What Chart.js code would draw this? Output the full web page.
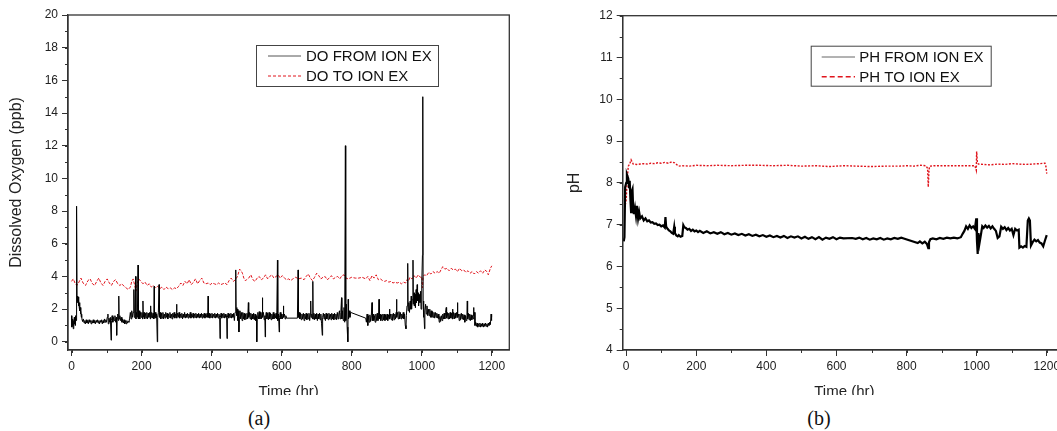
<!DOCTYPE html>
<html>
<head>
<meta charset="utf-8">
<script src="https://cdn.jsdelivr.net/npm/chart.js@4.4.1/dist/chart.umd.min.js"></script>
<style>
  body { margin: 0; background: #fff; width: 1057px; height: 431px; overflow: hidden; position: relative; }
  .panel { position: absolute; top: 0; height: 395px; overflow: hidden; }
  #panelA { left: 0; width: 530px; }
  #panelB { left: 540px; width: 517px; }
  .cap { position: absolute; top: 418px; transform: translate(-50%, -50%); font: 20px "Liberation Serif", "Times New Roman", serif; color: #111; }
</style>
</head>
<body>
<div class="panel" id="panelA"><canvas id="doChart" width="530" height="410"></canvas></div>
<div class="panel" id="panelB"><canvas id="phChart" width="550" height="410"></canvas></div>
<div class="cap" style="left:259px">(a)</div>
<div class="cap" style="left:819px">(b)</div>

<script>
// ---- data: [time (hr), value] ----
const timeTicks = [0, 200, 400, 600, 800, 1000, 1200];
const doTicks = [0, 2, 4, 6, 8, 10, 12, 14, 16, 18, 20];
const phTicks = [4, 5, 6, 7, 8, 9, 10, 11, 12];

const doLabels = ['DO FROM ION EX', 'DO TO ION EX'];
const phLabels = ['PH FROM ION EX', 'PH TO ION EX'];

const doFrom = [
  [0,1.6],[1,0.9],[2,1.3],[3,1.0],[4,1.4],[5,0.8],[6,1.3],[7,1.0],[8,1.5],[9,1.1],[10,1.4],[11,1.0],[12,1.6],[13,1.3],[14,2.0],
  [15,8.3],[16,2.4],[17,2.8],[18,2.5],[19,2.75],[20,2.2],[21,2.5],[22,2.1],[23,2.4],[24,1.9],[25,2.1],[26,1.7],[27,1.9],[28,1.5],
  [29,1.7],[30,1.35],[32,1.25],[34,1.4],[36,1.15],[38,1.3],[40,1.1],[42,1.35],[44,1.15],[46,1.3],[48,1.1],[50,1.35],[52,1.2],
  [54,1.3],[56,1.1],[58,1.3],[60,1.15],[62,1.35],[64,1.15],[66,1.3],[68,1.1],[70,1.3],[72,1.2],[74,1.35],[76,1.15],[78,1.3],
  [80,1.1],[82,1.3],[84,1.2],[86,1.35],[88,1.1],[90,1.3],[92,1.15],[94,1.4],[96,1.2],[98,1.35],[100,1.2],
  [102,1.5],[104,1.7],[105,1.1],[107,1.45],[109,1.2],[111,1.5],[113,0.1],[114,1.3],[116,1.6],[118,1.2],[120,1.5],[122,1.3],
  [124,1.6],[126,1.2],[128,1.5],[129,0.4],[130,1.4],[132,1.7],[134,1.3],[135,2.8],[136,1.4],[138,1.6],[140,1.3],[142,1.5],
  [144,1.2],[146,1.4],[148,1.15],[150,1.35],[152,1.1],[154,1.3],[156,1.1],[158,1.3],[160,1.15],[162,1.25],[164,1.2],
  [166,1.45],[168,1.8],[170,1.4],[172,1.9],[174,1.5],[176,1.8],[178,3.2],[179,1.5],[181,1.9],[183,4.0],[184,1.4],[186,1.8],
  [188,1.5],[190,4.7],[191,1.4],[193,1.9],[195,1.4],[197,1.8],[199,1.5],[201,1.8],[203,1.4],[204,2.5],[205,1.5],[207,1.8],
  [209,1.4],[211,1.75],[213,1.45],[215,1.8],[217,1.4],[219,1.75],[221,1.5],[223,1.8],[225,1.4],[226,2.2],[227,1.5],[229,1.8],
  [231,1.45],[233,1.75],[235,1.4],[236,3.4],[237,1.5],[239,1.8],[241,1.45],[243,1.7],[245,0.0],[246,1.5],[248,1.8],[250,3.5],
  [251,1.5],[253,1.8],[255,1.4],[257,1.75],[259,1.45],[261,1.8],[263,1.4],[265,1.7],[267,1.45],[269,1.8],[271,1.5],[273,1.75],
  [275,1.4],[277,1.7],[279,1.5],[281,1.8],[283,1.45],[285,1.7],[287,1.4],[289,1.75],[291,1.5],[293,1.8],[295,1.45],[297,1.7],
  [299,1.5],[300,2.3],[301,1.45],[303,1.75],[305,1.5],[307,1.8],[309,1.45],[311,1.7],[313,1.5],[315,1.75],[317,1.4],[319,1.7],
  [321,1.5],[323,1.8],[325,1.45],[327,1.7],[329,1.5],[331,1.75],[333,1.45],[335,1.7],[337,1.5],[339,1.8],[341,1.45],[343,1.7],
  [345,1.5],[347,1.75],[349,1.45],[351,1.7],[353,1.5],[355,1.75],[357,1.45],[359,1.7],[361,1.5],[363,1.75],[365,1.45],
  [367,1.7],[369,1.5],[371,1.75],[373,1.45],[375,1.7],[377,1.5],[379,1.75],[381,1.45],[383,1.7],[385,1.5],[387,1.75],
  [389,1.5],[390,2.8],[391,1.5],[393,1.75],[395,1.45],[397,1.7],[399,1.5],[401,1.75],[403,1.45],[405,1.7],[407,1.5],[409,1.75],
  [411,1.45],[413,1.7],[415,1.5],[417,1.75],[419,1.45],[421,1.7],[423,1.5],[424,0.2],[425,1.5],[427,1.75],[429,1.45],[431,1.7],
  [433,1.5],[435,1.75],[437,1.45],[439,1.7],[441,1.5],[443,1.6],[444,0.2],[445,1.5],[447,1.75],[449,1.45],[451,1.7],[453,1.5],
  [455,1.75],[457,1.45],[459,1.7],[461,1.5],[463,1.75],[465,1.3],[467,1.8],[469,4.4],[470,2.1],
  [472,1.6],[474,2.0],[475,1.3],[477,1.9],[478,0.6],[479,1.5],[481,1.9],[483,1.4],[485,1.8],[487,1.3],[489,1.8],[491,1.4],
  [493,1.75],[495,1.35],[497,1.7],[499,1.4],[501,1.75],[503,1.4],[505,2.4],[506,1.5],[508,1.8],[510,1.4],[512,1.75],[514,1.35],
  [516,1.7],[518,1.4],[520,1.75],[522,1.35],[524,1.7],[526,1.3],[528,1.6],[529,0.0],[530,1.5],[532,1.8],[534,1.4],[536,1.85],
  [538,1.4],[540,1.8],[542,1.4],[544,1.8],[545,2.7],[546,1.5],[548,1.8],[550,1.35],[552,1.6],[553,0.3],[554,1.5],[556,1.8],
  [558,1.4],[560,1.75],[562,1.35],[564,1.8],[566,1.4],[568,1.75],[570,1.35],[572,1.7],[574,1.4],[576,1.8],[578,1.4],[580,1.7],
  [582,1.45],[584,1.75],[586,1.4],[588,5.0],[589,1.3],[591,1.7],[593,0.6],[594,1.5],[596,1.8],[598,1.4],[600,1.7],[602,1.4],
  [604,1.7],[605,2.2],[606,1.5],[608,1.7],[610,1.4],[612,1.6],[614,1.45],
  [645,1.45],[647,4.4],[648,1.5],[650,1.8],[652,1.4],[654,1.75],[656,1.35],[658,1.7],[660,1.4],[662,1.75],[664,1.3],[666,1.7],
  [668,1.4],[670,1.75],[672,1.35],[674,1.7],[676,1.4],[678,1.75],[680,1.3],[682,1.7],[683,2.5],[684,1.5],[686,1.7],[688,1.4],
  [689,3.7],[690,1.4],[692,1.75],[694,1.35],[696,1.7],[698,1.4],[700,1.75],[702,1.3],[704,1.7],[706,1.4],[708,1.75],[710,1.35],
  [712,1.7],[714,1.1],[716,0.4],[717,1.5],[719,1.75],[721,1.4],[723,1.7],[725,1.3],[727,1.75],[729,1.4],[731,1.7],[733,1.35],
  [735,1.75],[737,1.4],[739,1.7],[741,1.35],[743,1.75],[745,1.4],[747,1.7],[749,1.35],[751,1.75],[753,1.4],[755,1.7],
  [757,1.35],[759,1.8],[761,1.4],[763,1.7],[765,1.9],[767,1.4],[769,1.8],[771,2.7],[772,1.4],[774,1.9],[776,1.3],[778,2.1],
  [780,1.2],[782,12.0],[783,1.3],[785,2.3],[787,0.9],[789,0.0],[790,2.6],[791,1.4],[793,1.9],[795,1.5],[797,1.8],
  [840,1.45],[842,1.2],[844,1.7],[846,1.0],[848,1.6],[850,1.2],[852,1.65],[854,1.25],[856,1.6],[858,2.4],[859,1.3],[861,1.7],
  [863,1.3],[865,1.6],[867,1.2],[869,1.7],[871,1.3],[873,1.75],[875,1.3],[877,1.6],[878,2.6],[879,1.4],[881,1.7],[883,1.3],
  [885,1.65],[887,1.3],[889,1.7],[891,1.35],[893,1.7],[895,1.3],[897,1.65],[899,1.35],[901,1.7],[903,1.3],[905,1.65],
  [907,1.4],[908,2.0],[909,1.4],[911,1.7],[913,1.35],[915,1.7],[917,1.3],[919,1.75],[921,1.35],[923,1.7],[925,1.4],[927,1.8],
  [928,2.6],[929,1.5],[931,1.8],[933,1.4],[935,1.85],[937,1.4],[939,1.8],[941,1.4],[943,1.7],[945,1.45],[947,1.8],[949,1.4],
  [951,1.7],[953,1.0],[955,0.8],
  [956,1.6],[958,2.2],[960,4.8],[961,1.9],[963,2.4],[965,1.8],[967,2.5],[968,2.0],[970,2.8],[971,2.0],[973,2.6],[975,5.0],
  [976,2.3],[978,3.0],[979,2.2],[981,2.9],[982,2.1],[984,3.2],[985,2.4],[987,3.5],[988,2.5],[990,3.0],[991,2.2],[993,2.9],
  [995,2.4],[997,3.1],[998,2.0],[1000,3.5],[1002,5.3],[1003,15.0],[1004,2.5],[1005,1.5],[1006,2.2],[1008,0.8],[1009,1.9],
  [1011,2.3],[1013,1.7],[1015,2.2],[1017,1.6],[1019,2.0],[1021,1.6],[1023,2.0],[1025,1.5],[1027,1.9],[1029,1.5],[1031,1.85],
  [1033,1.5],[1035,1.8],[1037,1.45],[1039,1.8],[1041,1.5],[1043,1.75],[1045,1.45],[1047,1.7],[1049,1.4],[1050,1.2],
  [1052,1.55],[1054,1.25],[1056,1.6],[1058,1.3],[1060,1.7],[1062,1.4],[1064,1.75],[1066,1.4],[1068,1.8],[1070,2.1],[1071,1.45],
  [1073,1.8],[1075,1.4],[1077,1.75],[1079,1.4],[1081,1.8],[1083,1.45],[1085,1.75],[1087,1.4],[1088,2.0],[1089,1.4],[1091,1.8],
  [1093,1.4],[1095,1.75],[1097,1.45],[1099,1.8],[1101,1.5],[1102,2.4],[1103,1.5],[1105,1.7],[1107,1.3],[1109,1.7],[1111,1.35],
  [1113,1.75],[1115,1.4],[1117,1.7],[1119,1.35],[1121,1.65],[1123,1.2],[1125,1.6],[1127,1.3],[1129,1.6],[1130,2.5],[1131,1.4],
  [1133,1.75],[1135,1.35],[1137,1.7],[1139,1.3],[1141,1.65],[1143,1.35],[1145,1.6],[1147,1.4],[1148,2.1],[1149,1.6],[1151,1.8],
  [1152,1.0],[1154,1.2],[1156,0.95],[1158,1.15],[1160,0.9],[1162,1.1],[1164,0.95],[1166,1.15],[1168,0.9],[1170,1.1],[1172,0.95],
  [1174,1.15],[1176,0.9],[1178,1.1],[1180,0.95],[1182,1.15],[1184,0.95],[1186,1.1],[1188,0.9],[1190,1.15],[1192,1.0],
  [1194,1.2],[1196,1.05],[1198,1.7],[1199,1.3],[1200,1.5]
];

const doTo = [
  [0,3.7],[5,3.85],[10,3.6],[15,3.45],[20,3.6],[27,3.9],[33,3.6],[40,3.45],[47,3.75],[53,3.85],[60,3.55],[66,3.45],[72,3.7],
  [78,3.9],[84,3.6],[90,3.45],[96,3.7],[102,3.85],[108,3.6],[114,3.45],[120,3.7],[126,3.8],[132,3.55],[138,3.45],[144,3.55],
  [150,3.4],[156,3.3],[162,3.2],[168,3.35],[172,3.7],[176,3.85],[180,3.5],[184,3.1],[188,3.6],[192,3.85],[198,3.7],[204,3.55],
  [210,3.65],[216,3.45],[222,3.55],[228,3.35],[234,3.45],[240,3.3],[246,3.4],[252,3.25],[258,3.35],[264,3.2],[270,3.35],
  [276,3.25],[282,3.3],[288,3.2],[294,3.3],[300,3.25],[306,3.4],[312,3.6],[318,3.45],[324,3.7],[330,3.55],[336,3.8],[342,3.5],
  [348,3.65],[354,3.85],[360,3.55],[366,3.75],[372,3.9],[378,3.6],[384,3.55],[390,3.6],[396,3.5],[402,3.6],[408,3.55],
  [414,3.5],[420,3.6],[426,3.5],[432,3.55],[438,3.6],[444,3.5],[450,3.75],[456,3.9],[462,3.7],[468,3.8],[474,4.0],[480,4.45],
  [484,4.35],[488,4.2],[492,3.9],[496,3.75],[500,3.8],[506,3.9],[512,4.1],[518,3.8],[524,3.7],[530,3.9],[536,4.0],[542,3.8],
  [548,3.9],[554,4.1],[560,3.85],[566,4.0],[572,4.1],[578,3.9],[584,4.0],[590,4.1],[596,3.9],[602,4.05],[608,3.9],[614,3.8],
  [620,3.85],[626,3.75],[632,3.85],[640,3.95],[648,3.85],[656,3.9],[664,3.8],[670,4.0],[676,4.15],[682,3.9],[688,3.75],
  [694,3.95],[700,4.2],[706,4.05],[712,3.85],[718,3.95],[724,4.0],[730,3.8],[736,3.9],[742,4.05],[748,3.85],[754,3.95],
  [760,4.0],[766,3.85],[772,4.05],[778,4.1],[784,3.9],[790,3.85],[800,3.95],[810,3.9],[820,3.9],[830,3.95],[840,3.85],
  [846,4.0],[852,3.75],[858,4.05],[864,3.9],[870,4.1],[876,3.8],[882,3.85],[888,3.75],[894,3.7],[900,3.75],[906,3.65],
  [912,3.7],[918,3.6],[924,3.65],[930,3.6],[936,3.65],[942,3.55],[948,3.65],[954,3.6],[958,3.8],[962,3.7],[966,3.95],
  [972,3.85],[978,4.05],[984,3.9],[990,4.1],[996,3.95],[1000,4.0],[1002,3.3],[1004,4.0],[1008,4.1],[1014,4.05],[1020,4.25],
  [1026,4.15],[1032,4.3],[1038,4.2],[1044,4.3],[1050,4.2],[1056,4.45],[1060,4.6],[1066,4.45],[1072,4.5],[1078,4.35],
  [1084,4.5],[1090,4.4],[1096,4.45],[1102,4.3],[1108,4.5],[1114,4.35],[1120,4.4],[1126,4.25],[1132,4.35],[1138,4.2],
  [1144,4.3],[1150,4.15],[1156,4.3],[1162,4.2],[1168,4.35],[1174,4.2],[1180,4.4],[1186,4.3],[1190,4.1],[1196,4.5],[1200,4.65]
];

const phFrom = [
  [-7,6.6],[-5,6.7],[-3,7.9],[0,8.0],[2,8.2],[4,8.15],[6,8.1],[8,7.9],[10,8.05],[12,7.6],[14,7.3],[16,7.8],[18,7.85],[20,7.35],
  [22,7.25],[25,7.4],[28,7.2],[31,7.45],[34,7.15],[37,7.3],[40,7.15],[45,7.2],[50,7.1],[55,7.15],[60,7.08],[65,7.1],[70,7.05],
  [75,7.06],[80,7.02],[85,7.03],[90,6.99],[95,7.0],[100,6.96],[105,6.98],[110,6.93],[112,7.18],[114,6.95],[118,6.9],[122,6.86],
  [126,6.84],[130,6.8],[134,6.78],[137,6.95],[139,6.8],[143,6.74],[147,6.72],[150,6.75],[155,6.71],[160,6.73],[163,6.99],
  [166,6.94],[170,6.92],[175,6.88],[180,6.9],[185,6.85],[190,6.88],[195,6.84],[200,6.86],[205,6.82],[210,6.85],[220,6.8],
  [230,6.84],[240,6.79],[250,6.82],[260,6.78],[270,6.82],[280,6.77],[290,6.8],[300,6.76],[310,6.79],[320,6.75],[330,6.78],
  [340,6.74],[350,6.77],[360,6.73],[370,6.76],[380,6.72],[390,6.75],[400,6.71],[410,6.74],[420,6.7],[430,6.73],[440,6.69],
  [450,6.73],[460,6.68],[470,6.72],[480,6.69],[490,6.72],[500,6.67],[510,6.71],[520,6.66],[530,6.7],[540,6.65],[550,6.7],
  [560,6.64],[570,6.69],[580,6.66],[590,6.7],[600,6.65],[610,6.69],[620,6.67],[645,6.68],[655,6.66],[665,6.69],[675,6.65],
  [685,6.68],[695,6.64],[705,6.67],[715,6.65],[725,6.68],[735,6.64],[745,6.67],[755,6.65],[765,6.68],[775,6.66],[785,6.69],
  [792,6.67],[832,6.56],[838,6.6],[845,6.55],[852,6.59],[858,6.54],[862,6.44],[864,6.58],[868,6.65],[875,6.67],[885,6.65],
  [895,6.68],[905,6.66],[915,6.69],[925,6.67],[935,6.69],[945,6.67],[955,6.7],[960,6.78],[965,6.85],[970,6.96],[975,6.9],
  [980,6.98],[985,6.92],[990,6.96],[995,6.9],[999,7.15],[1001,6.6],[1003,6.3],[1005,6.8],[1008,6.55],[1012,6.75],[1016,6.96],
  [1020,6.92],[1025,6.98],[1030,6.93],[1035,6.97],[1040,6.91],[1045,6.96],[1050,6.9],[1055,6.85],[1060,6.68],[1065,6.72],
  [1070,6.95],[1075,6.9],[1080,6.94],[1085,6.87],[1090,6.92],[1095,6.86],[1100,6.9],[1105,6.75],[1110,6.9],[1115,6.86],
  [1120,6.88],[1122,6.45],[1127,6.48],[1132,6.45],[1137,6.49],[1142,6.47],[1146,7.1],[1149,7.15],[1152,7.1],[1155,6.5],
  [1160,6.58],[1165,6.64],[1170,6.6],[1175,6.63],[1180,6.57],[1185,6.55],[1190,6.48],[1195,6.62],[1200,6.75]
];

const phTo = [
  [-5,7.5],[-2,7.5],[0,7.6],[3,8.1],[6,8.4],[10,8.45],[14,8.55],[17,8.5],[20,8.45],[30,8.44],[40,8.45],[50,8.46],[60,8.45],
  [70,8.47],[80,8.46],[90,8.48],[100,8.47],[110,8.49],[120,8.47],[130,8.5],[138,8.48],[145,8.43],[150,8.4],[160,8.41],
  [180,8.4],[200,8.42],[230,8.41],[260,8.42],[300,8.41],[340,8.42],[380,8.42],[420,8.41],[460,8.42],[500,8.4],[540,8.41],
  [580,8.39],[620,8.41],[660,8.4],[700,8.39],[740,8.4],[780,8.4],[800,8.41],[820,8.4],[840,8.42],[855,8.41],[860,8.35],
  [862,7.9],[864,8.3],[866,8.4],[880,8.41],[920,8.41],[960,8.41],[995,8.41],[999,8.3],[1000,8.75],[1002,8.5],[1005,8.45],
  [1020,8.44],[1040,8.43],[1060,8.45],[1080,8.44],[1100,8.46],[1120,8.45],[1140,8.44],[1160,8.45],[1180,8.46],[1195,8.47],
  [1198,8.38],[1200,8.22]
];

const RED = '#e0151d';
const AXIS = '#333';
const FONT = '"Liberation Sans", Arial, sans-serif';

// box around the plot, like the original software draws it
const frame = {
  id: 'frame',
  afterDraw(chart) {
    const { ctx, chartArea: a } = chart;
    ctx.save();
    ctx.strokeStyle = AXIS;
    ctx.lineWidth = 1.3;
    ctx.strokeRect(a.left, a.top, a.right - a.left, a.bottom - a.top);
    ctx.restore();
  }
};

// short minor ticks between the labelled ones
const minorTicks = {
  id: 'minorTicks',
  afterDraw(chart) {
    const ctx = chart.ctx;
    ctx.save();
    ctx.strokeStyle = AXIS;
    ctx.lineWidth = 1;
    ['x', 'y'].forEach(id => {
      const s = chart.scales[id];
      const step = s.options.minorStep;
      for (let v = Math.ceil(s.min / step) * step; v <= s.max; v += step) {
        const p = Math.round(s.getPixelForValue(v)) + 0.5;
        ctx.beginPath();
        if (id === 'x') { ctx.moveTo(p, s.top); ctx.lineTo(p, s.top + 3); }
        else { ctx.moveTo(s.right, p); ctx.lineTo(s.right - 3, p); }
        ctx.stroke();
      }
    });
    ctx.restore();
  }
};

// legend in a box inside the plot
const boxLegend = {
  id: 'boxLegend',
  afterDraw(chart, args, o) {
    const ctx = chart.ctx;
    ctx.save();
    ctx.strokeStyle = '#444';
    ctx.lineWidth = 1;
    ctx.strokeRect(o.x + 0.5, o.y + 0.5, o.w, o.h);
    ctx.font = '15px ' + FONT;
    ctx.textBaseline = 'middle';
    ctx.fillStyle = '#111';
    chart.data.datasets.forEach((ds, i) => {
      const yy = o.rows[i];
      ctx.beginPath();
      ctx.setLineDash(o.dashes[i]);
      ctx.strokeStyle = o.colors[i];
      ctx.lineWidth = o.widths[i];
      ctx.moveTo(o.lineFrom, yy);
      ctx.lineTo(o.lineTo, yy);
      ctx.stroke();
      ctx.setLineDash([]);
      ctx.fillText(ds.label, o.textX, yy + 1);
    });
    ctx.restore();
  }
};

function axis(ticks, min, max, minorStep, titleText, titleFont, titlePad, size, pos) {
  return {
    type: 'linear',
    position: pos,
    min: min,
    max: max,
    minorStep: minorStep,
    afterBuildTicks: s => { s.ticks = ticks.map(v => ({ value: v })); },
    afterFit: s => { if (pos === 'left') s.width = size; else s.height = size; },
    border: { display: true, color: AXIS, width: 1.3 },
    grid: { drawOnChartArea: false, drawTicks: true, tickLength: 6, tickColor: AXIS, tickWidth: 1 },
    ticks: { autoSkip: false, maxRotation: 0, color: '#222', padding: pos === 'left' ? 4 : 3,
             font: { family: FONT, size: 12 }, callback: v => String(v) },
    title: { display: true, text: titleText, color: '#222', font: { family: FONT, size: titleFont },
             padding: titlePad }
  };
}

function lineSet(label, pts, color, width, dash) {
  return {
    label: label,
    data: pts.map(p => ({ x: p[0], y: p[1] })),
    borderColor: color,
    borderWidth: width,
    borderDash: dash,
    pointRadius: 0,
    tension: 0,
    fill: false
  };
}

new Chart(document.getElementById('doChart'), {
  type: 'line',
  data: {
    datasets: [
      lineSet(doLabels[0], doFrom, '#000', 1, []),
      lineSet(doLabels[1], doTo, RED, 1, [3, 1.5])
    ]
  },
  options: {
    responsive: false,
    animation: false,
    devicePixelRatio: 1,
    layout: { padding: { left: 0, right: 20.7, top: 15, bottom: 0 } },
    scales: {
      x: axis(timeTicks, -10, 1250, 100, 'Time (hr)', 15, { top: 0, bottom: 9 }, 60, 'bottom'),
      y: axis(doTicks, -0.5, 20, 1, 'Dissolved Oxygen (ppb)', 16, { top: 6.7, bottom: 0 }, 68, 'left')
    },
    plugins: {
      legend: { display: false },
      tooltip: { enabled: false },
      boxLegend: {
        x: 256, y: 45, w: 182, h: 41, rows: [56, 76],
        lineFrom: 268, lineTo: 301, textX: 306,
        colors: ['#555', RED], widths: [1, 1], dashes: [[], [3, 2]]
      }
    }
  },
  plugins: [frame, minorTicks, boxLegend]
});

new Chart(document.getElementById('phChart'), {
  type: 'line',
  data: {
    datasets: [
      lineSet(phLabels[0], phFrom, '#000', 2.2, []),
      lineSet(phLabels[1], phTo, RED, 1.4, [2, 1.5])
    ]
  },
  options: {
    responsive: false,
    animation: false,
    devicePixelRatio: 1,
    layout: { padding: { left: 0, right: 24, top: 15.7, bottom: 0 } },
    scales: {
      x: axis(timeTicks, -10, 1255, 100, 'Time (hr)', 15, { top: 0, bottom: 9 }, 60, 'bottom'),
      y: axis(phTicks, 4, 12, 0.5, 'pH', 16, { top: 24.9, bottom: 0 }, 82.7, 'left')
    },
    plugins: {
      legend: { display: false },
      tooltip: { enabled: false },
      boxLegend: {
        x: 270.7, y: 45.7, w: 180, h: 40, rows: [57, 76.7],
        lineFrom: 281.7, lineTo: 315, textX: 319.3,
        colors: ['#666', RED], widths: [1, 1.5], dashes: [[], [5, 3]]
      }
    }
  },
  plugins: [frame, minorTicks, boxLegend]
});
</script>
</body>
</html>
